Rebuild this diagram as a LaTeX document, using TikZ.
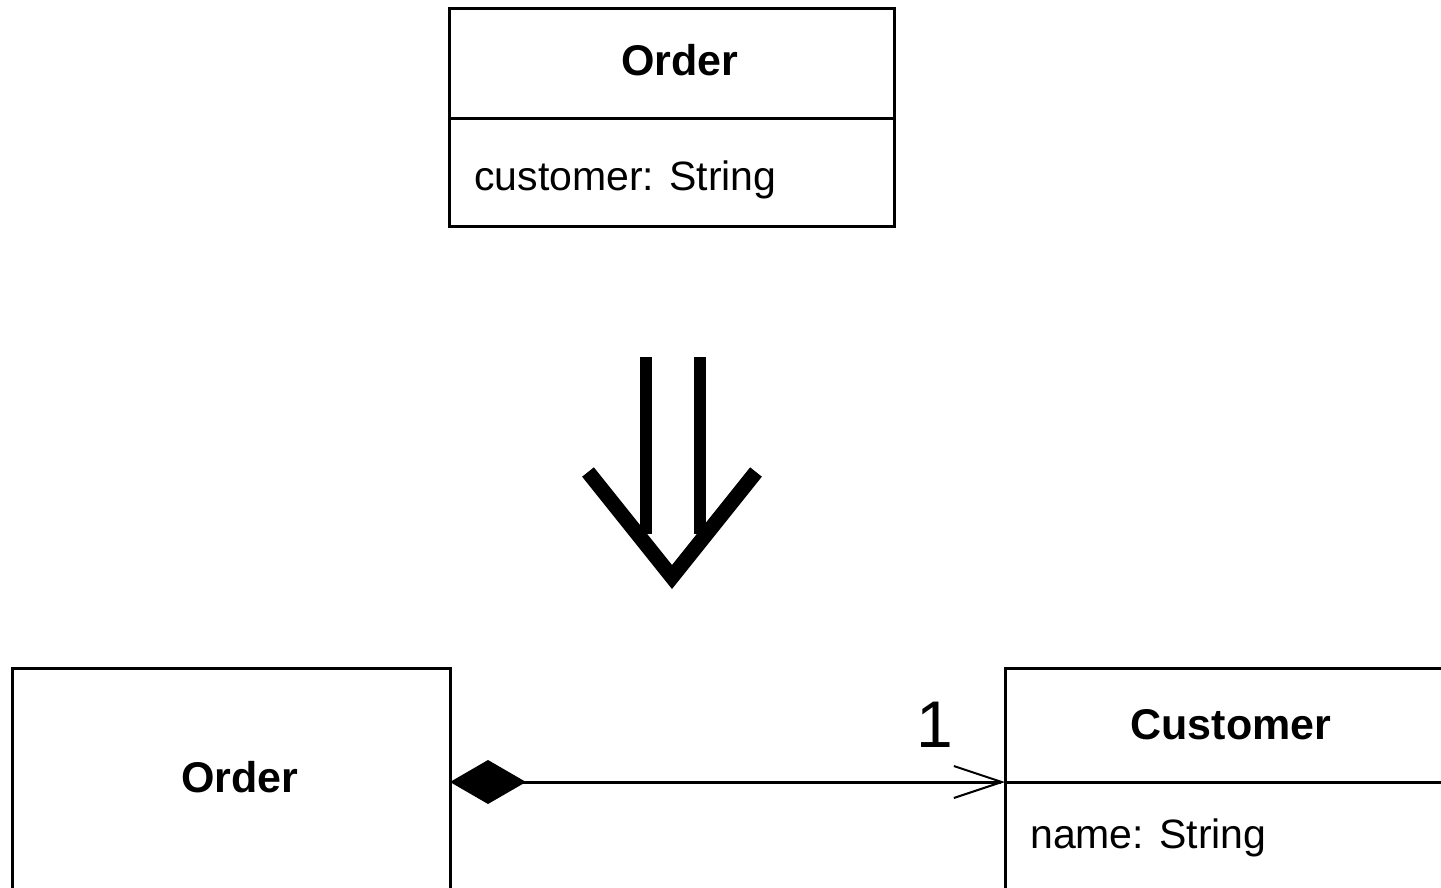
\documentclass[tikz,border=0pt]{standalone}
\usepackage{fontspec}
\setmainfont{Liberation Sans}
\usetikzlibrary{arrows.meta}
\begin{document}
\begin{tikzpicture}[x=1pt,y=-1pt,
  compartment/.style={draw, line width=3pt, inner sep=0pt, outer sep=0pt, anchor=north west},
  classname/.style={font=\fontsize{43}{50}\selectfont\bfseries, anchor=base, inner sep=0pt},
  attribute/.style={font=\fontsize{41}{48}\selectfont, anchor=base west, inner sep=0pt},
  refine/.style={line width=#1, line cap=butt},
]
\useasboundingbox (0,0) rectangle (1441,887);
\clip (0,0) rectangle (1441,887);

% class before the refactoring
\node[compartment, minimum width=445pt, minimum height=110pt] (ordTop) at (449,8) {};
\node[compartment, minimum width=445pt, minimum height=108pt] (ordTopAttr) at (449,118) {};
\node[classname] (ordTopName) at (680,75) {Order};
\node[attribute] (ordTopField) at (474,190) {customer: String};

% refinement arrow
\draw[refine=12pt] (646,357) -- (646,534);
\draw[refine=12pt] (700,357) -- (700,534);
\draw[refine=15pt, line join=miter] (588,472) -- (672,577) -- (756,472);

% classes after the refactoring
\node[compartment, minimum width=438pt, minimum height=228pt] (ordBox) at (12,668) {};
\node[classname] (ordName) at (240,792) {Order};

\node[compartment, minimum width=455pt, minimum height=114pt] (custTitle) at (1005,668) {};
\node[compartment, minimum width=455pt, minimum height=130pt] (custAttr) at (1005,782) {};
\node[classname] (custName) at (1231,739) {Customer};
\node[attribute] (custField) at (1030,848) {name: String};

% composition association
\draw[line width=3pt,
  {Diamond[length=76pt,width=44pt]}-{Straight Barb[length=48pt,width=32pt,line width=2pt]}]
  (ordBox.east) -- (custTitle.south west);
\node[font=\fontsize{66}{70}\selectfont, anchor=base, inner sep=0pt] (mult) at (935,747) {1};
\end{tikzpicture}
\end{document}
